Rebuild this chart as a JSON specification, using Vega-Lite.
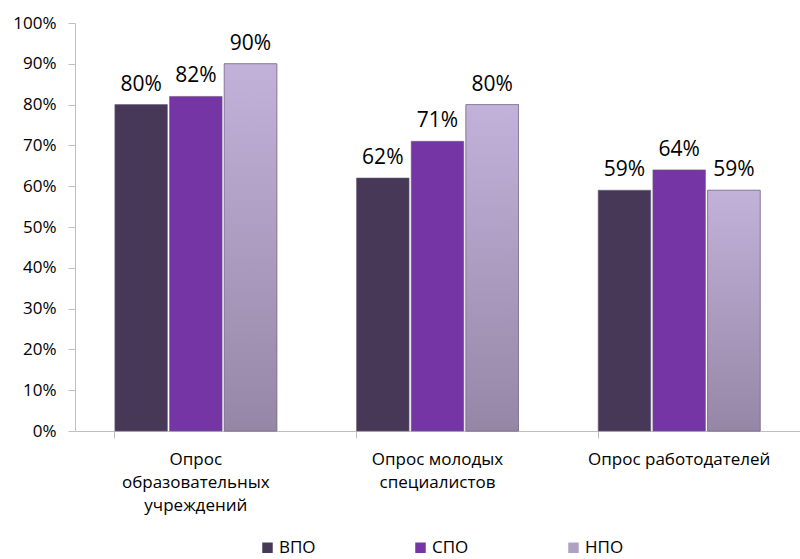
{
  "$schema": "https://vega.github.io/schema/vega-lite/v6.json",
  "width": 725,
  "height": 408,
  "autosize": "none",
  "padding": {"left": 75, "top": 23, "right": 0, "bottom": 128},
  "background": "white",
  "config": {
    "font": "Open Sans",
    "view": {"stroke": null}
  },
  "data": {
    "values": [
      {"cat": "Опрос|образовательных|учреждений", "series": "ВПО", "value": 0.80},
      {"cat": "Опрос|образовательных|учреждений", "series": "СПО", "value": 0.82},
      {"cat": "Опрос|образовательных|учреждений", "series": "НПО", "value": 0.90},
      {"cat": "Опрос молодых|специалистов", "series": "ВПО", "value": 0.62},
      {"cat": "Опрос молодых|специалистов", "series": "СПО", "value": 0.71},
      {"cat": "Опрос молодых|специалистов", "series": "НПО", "value": 0.80},
      {"cat": "Опрос работодателей", "series": "ВПО", "value": 0.59},
      {"cat": "Опрос работодателей", "series": "СПО", "value": 0.64},
      {"cat": "Опрос работодателей", "series": "НПО", "value": 0.59}
    ]
  },
  "encoding": {
    "x": {
      "field": "cat", "type": "nominal", "sort": null,
      "scale": {"paddingInner": 0.33, "paddingOuter": 0.165},
      "axis": {
        "title": null, "labelAngle": 0, "labelExpr": "split(datum.label, '|')",
        "labelFontSize": 17, "labelColor": "#000000", "labelLineHeight": 23,
        "labelPadding": 13, "labelLimit": 300,
        "bandPosition": 0, "tickSize": 7, "tickColor": "#bfbfbf",
        "domainColor": "#bfbfbf", "grid": false
      }
    },
    "xOffset": {"field": "series", "type": "nominal", "sort": ["ВПО", "СПО", "НПО"], "scale": {"paddingInner": 0.04}},
    "y": {
      "field": "value", "type": "quantitative",
      "scale": {"domain": [0, 1]},
      "axis": {
        "title": null, "format": ".0%", "values": [0, 0.1, 0.2, 0.3, 0.4, 0.5, 0.6, 0.7, 0.8, 0.9, 1.0],
        "labelFontSize": 17, "labelColor": "#000000", "labelPadding": 12,
        "tickSize": 7, "tickColor": "#bfbfbf", "domainColor": "#bfbfbf", "grid": false
      }
    }
  },
  "layer": [
    {
      "mark": {"type": "bar", "stroke": "#6a5a7a", "strokeWidth": 0.6},
      "encoding": {
        "color": {
          "field": "series", "type": "nominal", "sort": ["ВПО", "СПО", "НПО"],
          "scale": {"domain": ["ВПО", "СПО", "НПО"], "range": ["#483858", "#7535a5", "#b0a0c4"]},
          "legend": {
            "orient": "none", "legendX": 184, "legendY": 516,
            "direction": "horizontal", "title": null,
            "symbolType": "square", "symbolSize": 110, "symbolStrokeWidth": 0,
            "labelFontSize": 17, "labelColor": "#000000", "columnPadding": 96,
            "labelOffset": 3
          }
        }
      }
    },
    {
      "transform": [{"filter": "datum.series === 'НПО'"}],
      "mark": {
        "type": "bar", "stroke": "#7a6a8a", "strokeWidth": 0.6,
        "color": {
          "x1": 0, "y1": 0, "x2": 0, "y2": 1, "gradient": "linear",
          "stops": [{"offset": 0, "color": "#c2b2da"}, {"offset": 1, "color": "#9686a6"}]
        }
      },
      "encoding": {}
    },
    {
      "mark": {"type": "text", "baseline": "alphabetic", "dy": -14, "fontSize": 21, "color": "#000000"},
      "encoding": {
        "text": {"field": "value", "type": "quantitative", "format": ".0%"}
      }
    }
  ]
}
